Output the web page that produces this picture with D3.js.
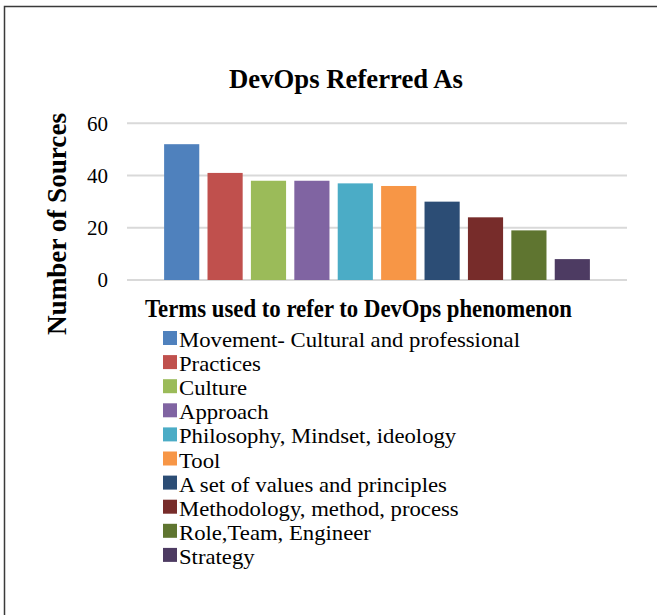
<!DOCTYPE html>
<html><head><meta charset="utf-8">
<script src="https://cdn.jsdelivr.net/npm/d3@7"></script>
<style>body{margin:0;background:#fff}svg{display:block}text{font-family:"Liberation Serif","Times New Roman",serif;fill:#000}</style>
</head><body><svg id="c" width="657" height="615"></svg>
<script>
const categories = ["Movement- Cultural and professional","Practices","Culture","Approach","Philosophy, Mindset, ideology","Tool","A set of values and principles","Methodology, method, process","Role,Team, Engineer","Strategy"];
const values = [52,41,38,38,37,36,30,24,19,8];
const colors = ["#4F81BD","#C0504D","#9BBB59","#8064A2","#4BACC6","#F79646","#2C4D75","#772C2A","#5F7530","#4D3B62"];
const yTicks = [0,20,40,60];
const title = "DevOps Referred As";
const yTitle = "Number of Sources";
const xTitle = "Terms used to refer to DevOps phenomenon";

const svg = d3.select("#c");
svg.append("path").attr("d","M4.5,615V6.5H657").attr("fill","none").attr("stroke","#3a3a3a").attr("stroke-width",1.5);

const left=127,right=627;
const x = d3.scaleBand().domain(categories).range([left,right]).paddingInner(0.19).paddingOuter(0.855);
const y = d3.scaleLinear().domain([0,60]).range([280,123.3]);

const g = svg.append("g");
g.selectAll("line.grid").data(yTicks).join("line").attr("class","grid")
 .attr("x1",left).attr("x2",right).attr("y1",d=>y(d)).attr("y2",d=>y(d))
 .attr("stroke","#d9d9d9").attr("stroke-width",2);
g.selectAll("text.tick").data(yTicks).join("text").attr("class","tick")
 .attr("x",108).attr("y",d=>y(d)).attr("dy","0.35em").attr("text-anchor","end")
 .attr("font-size",21).text(d=>d);
g.selectAll("rect.bar").data(values).join("rect").attr("class","bar")
 .attr("x",(d,i)=>x(categories[i])).attr("width",x.bandwidth())
 .attr("y",d=>y(d)).attr("height",d=>y(0)-y(d)).attr("fill",(d,i)=>colors[i]);

svg.append("text").attr("x",229).attr("y",88).attr("font-size",28).attr("font-weight","bold")
 .attr("textLength",234).attr("lengthAdjust","spacingAndGlyphs").text(title);
svg.append("text").attr("transform","translate(65.5,335) rotate(-90)").attr("font-size",27).attr("font-weight","bold")
 .attr("textLength",222).attr("lengthAdjust","spacingAndGlyphs").text(yTitle);
svg.append("text").attr("x",145).attr("y",317).attr("font-size",25).attr("font-weight","bold")
 .attr("textLength",427).attr("lengthAdjust","spacingAndGlyphs").text(xTitle);

const leg = svg.append("g");
const rows = leg.selectAll("g").data(categories).join("g")
 .attr("transform",(d,i)=>`translate(163,${347+i*24.1})`);
rows.append("rect").attr("x",0).attr("y",-16).attr("width",14).attr("height",14).attr("fill",(d,i)=>colors[i]);
const lt = rows.append("text").attr("x",16).attr("y",0).attr("font-size",21).text(d=>d);
const k = 341 / lt.node().getComputedTextLength();
lt.each(function(){const w=this.getComputedTextLength();d3.select(this).attr("textLength",w*k).attr("lengthAdjust","spacingAndGlyphs");});
</script></body></html>
